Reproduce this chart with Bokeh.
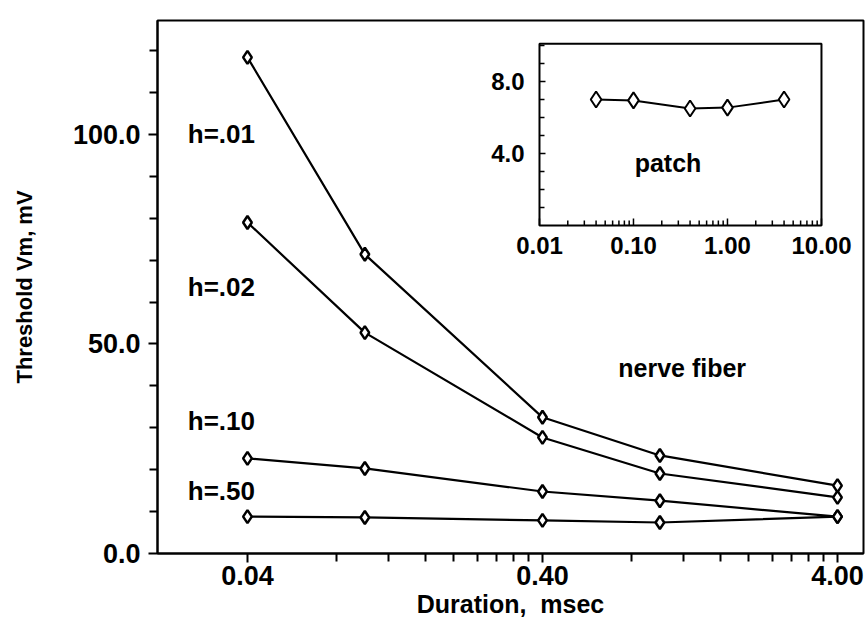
import math
from bokeh.plotting import figure
from bokeh.models import FixedTicker, PrintfTickFormatter, Range1d, LogScale
from bokeh.core.properties import value
from bokeh.embed import file_html
from bokeh.resources import INLINE

# ---- data ----
duration = [0.04, 0.1, 0.4, 1.0, 4.0]
h01 = [118.4, 71.4, 32.5, 23.4, 16.2]
h02 = [79.0, 52.7, 27.7, 19.1, 13.4]
h10 = [22.7, 20.3, 14.8, 12.6, 8.8]
h50 = [8.8, 8.6, 7.9, 7.4, 8.8]
series_labels = ["h=.01", "h=.02", "h=.10", "h=.50"]
patch = [7.0, 6.95, 6.5, 6.55, 7.0]

x_major = [0.04, 0.4, 4.0]
x_minor = [0.08, 0.12, 0.16, 0.2, 0.24, 0.28, 0.32, 0.36,
           0.8, 1.2, 1.6, 2.0, 2.4, 2.8, 3.2, 3.6]
y_major = [0, 50, 100]
y_minor = [10, 20, 30, 40, 60, 70, 80, 90, 110, 120]

ins_x_major = [0.01, 0.1, 1.0, 10.0]
ins_x_labels = ["0.01", "0.10", "1.00", "10.00"]
ins_x_minor = [0.02, 0.03, 0.04, 0.05, 0.06, 0.07, 0.08, 0.09,
               0.2, 0.3, 0.4, 0.5, 0.6, 0.7, 0.8, 0.9,
               2, 3, 4, 5, 6, 7, 8, 9]
ins_y_major = [4.0, 8.0]
ins_y_labels = ["4.0", "8.0"]
ins_y_minor = [1, 2, 3, 5, 6, 7, 9, 10]
ins_x_lim = (0.01, 10.0)
ins_y_lim = (0.0, 10.1)

FONT = "Liberation Sans"

# ---- main plot (inset drawn on extra ranges) ----
p = figure(width=865, height=632, x_axis_type="log",
           x_range=Range1d(0.01982, 4.90), y_range=Range1d(0, 127.2),
           extra_x_ranges={"ins": Range1d(8.63e-7, 28.0)},
           extra_x_scales={"ins": LogScale()},
           extra_y_ranges={"ins": Range1d(-18.22, 11.39)},
           output_backend="svg", toolbar_location=None,
           min_border_left=157, min_border_right=2,
           min_border_top=20, min_border_bottom=79)
p.grid.visible = False
p.outline_line_color = "black"
p.outline_line_width = 2
p.background_fill_color = "white"
p.border_fill_color = "white"

for ax in (p.xaxis[0], p.yaxis[0]):
    ax.axis_line_width = 2
    ax.axis_line_color = "black"
    ax.major_tick_line_width = 2
    ax.minor_tick_line_width = 2
    ax.major_tick_in = 0
    ax.minor_tick_in = 0
    ax.major_tick_out = 9
    ax.minor_tick_out = 8
    ax.major_label_text_font = FONT
    ax.major_label_text_font_size = "27px"
    ax.major_label_text_font_style = "bold"
    ax.major_label_text_color = "black"
    ax.axis_label_text_font = FONT
    ax.axis_label_text_font_style = "bold"
    ax.axis_label_text_color = "black"

p.xaxis.ticker = FixedTicker(ticks=x_major, minor_ticks=x_minor)
p.xaxis.formatter = PrintfTickFormatter(format="%.2f")
p.xaxis.axis_label = "Duration,\u00a0 msec"
p.xaxis.axis_label_text_font_size = "25px"
p.xaxis.major_label_standoff = 3
p.xaxis.axis_label_standoff = 2

p.yaxis.ticker = FixedTicker(ticks=y_major, minor_ticks=y_minor)
p.yaxis.formatter = PrintfTickFormatter(format="%.1f")
p.yaxis.axis_label = "Threshold Vm, mV"
p.yaxis.axis_label_text_font_size = "22px"
p.yaxis.major_label_standoff = 8
p.yaxis.axis_label_standoff = 33

for ys in (h01, h02, h10, h50):
    p.line(duration, ys, line_color="black", line_width=2.2)
    p.scatter(duration, ys, marker="diamond", size=13, fill_color="white",
              line_color="black", line_width=2.5)

label_x = [0.0251, 0.0251, 0.0251, 0.0251]
label_y = [100.0, 63.5, 31.7, 15.0]
p.text(x=label_x, y=label_y, text=series_labels, text_font=value(FONT),
       text_font_size="26px", text_font_style="bold", text_align="left",
       text_baseline="middle", text_color="black")
p.text(x=[1.19], y=[44.2], text=["nerve fiber"], text_font=value(FONT),
       text_font_size="25px", text_font_style="bold", text_align="center",
       text_baseline="middle", text_color="black")

# ---- inset "patch" ----
R = dict(x_range_name="ins", y_range_name="ins")
p.quad(left=[ins_x_lim[0]], right=[ins_x_lim[1]], bottom=[ins_y_lim[0]],
       top=[ins_y_lim[1]], fill_color="white", line_color="black",
       line_width=2, **R)
p.ray(x=ins_x_major, y=[ins_y_lim[0]] * len(ins_x_major), length=7,
      angle=math.pi / 2, length_units="screen", line_color="black",
      line_width=1.5, **R)
p.ray(x=ins_x_minor, y=[ins_y_lim[0]] * len(ins_x_minor), length=5,
      angle=math.pi / 2, length_units="screen", line_color="black",
      line_width=1.5, **R)
p.ray(x=[ins_x_lim[0]] * len(ins_y_major), y=ins_y_major, length=6,
      angle=0, length_units="screen", line_color="black",
      line_width=1.5, **R)
p.ray(x=[ins_x_lim[0]] * len(ins_y_minor), y=ins_y_minor, length=5,
      angle=0, length_units="screen", line_color="black",
      line_width=1.5, **R)
p.text(x=ins_x_major, y=[ins_y_lim[0]] * len(ins_x_major), text=ins_x_labels,
       y_offset=11, text_baseline="top", text_align="center",
       text_font=value(FONT), text_font_size="24px", text_font_style="bold",
       text_color="black", **R)
p.text(x=[ins_x_lim[0]] * len(ins_y_major), y=ins_y_major, text=ins_y_labels,
       x_offset=-15, text_baseline="middle", text_align="right",
       text_font=value(FONT), text_font_size="24px", text_font_style="bold",
       text_color="black", **R)

p.line(duration, patch, line_color="black", line_width=2, **R)
p.scatter(duration, patch, marker="diamond", size=16, fill_color="white",
          line_color="black", line_width=2, **R)
p.text(x=[0.233], y=[3.5], text=["patch"], text_font=value(FONT),
       text_font_size="25px", text_font_style="bold", text_align="center",
       text_baseline="middle", text_color="black", **R)

open("out.html", "w").write(file_html(p, INLINE))
